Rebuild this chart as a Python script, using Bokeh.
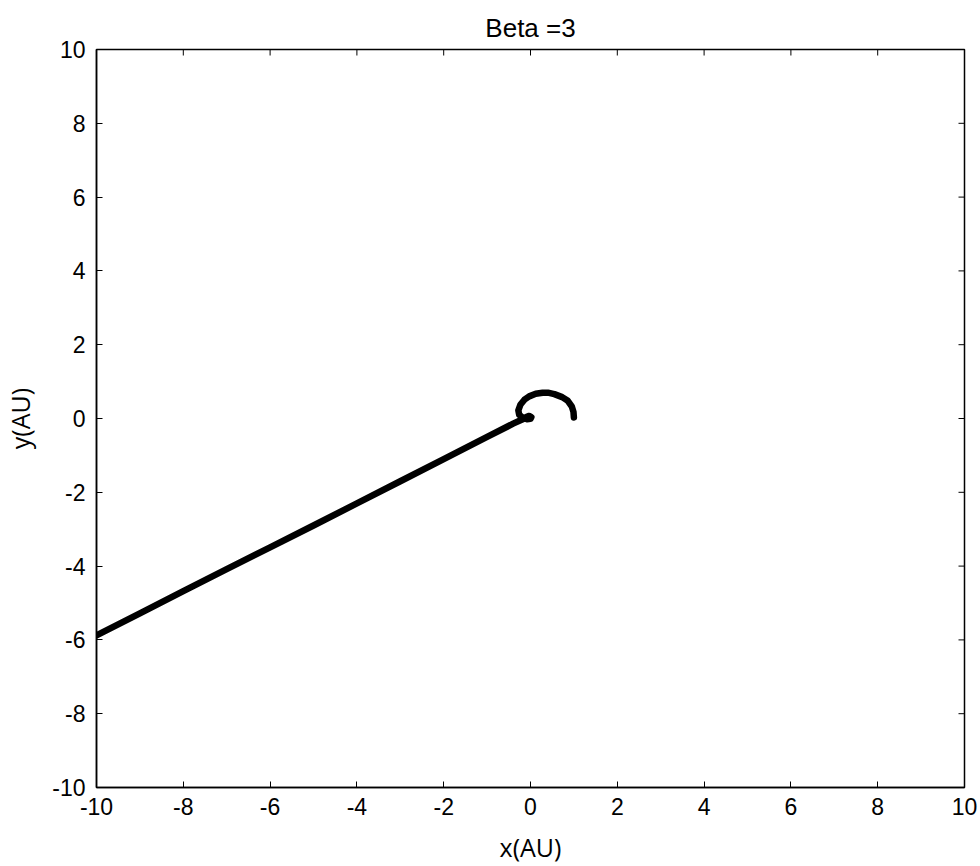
import math
from bokeh.plotting import figure
from bokeh.models import Range1d, FixedTicker
from bokeh.embed import file_html
from bokeh.resources import INLINE

title_text = "Beta =3"
x_label = "x(AU)"
y_label = "y(AU)"
ticks = [-10, -8, -6, -4, -2, 0, 2, 4, 6, 8, 10]
tick_labels = ["-10", "-8", "-6", "-4", "-2", "0", "2", "4", "6", "8", "10"]

# trajectory
traj_x = [1.00, 0.99, 0.95, 0.86, 0.73, 0.55, 0.40, 0.28, 0.12, -0.03, -0.14,
          -0.23, -0.28, -0.26, -0.18, -0.08, 0.00, 0.02, -0.03, -0.10, -0.18,
          -0.40, -1.0, -2.0, -3.0, -4.0, -5.0, -6.0, -7.0, -8.0, -9.0, -10.0]
traj_y = [0.03, 0.18, 0.33, 0.48, 0.58, 0.66, 0.70, 0.70, 0.67, 0.60, 0.51,
          0.38, 0.22, 0.10, 0.02, -0.02, -0.01, 0.04, 0.07, 0.04, -0.02,
          -0.14, -0.50, -1.10, -1.70, -2.30, -2.90, -3.49, -4.08, -4.68, -5.28, -5.88]

FONT = "Liberation Sans"
LFONT = "Open Sans"

p = figure(width=980, height=866, output_backend="svg", toolbar_location=None,
           x_range=Range1d(-10, 10), y_range=Range1d(-10, 10),
           min_border_left=96, min_border_right=16, min_border_top=49,
           min_border_bottom=78, title=title_text)

p.title.align = "center"
p.title.vertical_align = "top"
p.title.text_font = FONT
p.title.text_font_size = "26px"
p.title.text_font_style = "normal"
p.title.text_color = "black"
p.title.standoff = 10

p.grid.visible = False
p.outline_line_color = "black"
p.outline_line_width = 1.5
p.background_fill_color = "white"
p.border_fill_color = "white"

p.line(traj_x, traj_y, line_color="black", line_width=6.5,
       line_join="round", line_cap="round")

overrides = {t: s for t, s in zip(ticks, tick_labels)}
for ax in [p.xaxis[0], p.yaxis[0]]:
    ax.ticker = FixedTicker(ticks=ticks)
    ax.major_label_overrides = overrides
    ax.major_tick_in = 6
    ax.major_tick_out = 0
    ax.minor_tick_line_color = None
    ax.major_tick_line_color = "black"
    ax.axis_line_color = "black"
    ax.axis_line_width = 1.5
    ax.major_label_text_font = FONT
    ax.major_label_text_font_size = "23px"
    ax.major_label_text_color = "black"
    ax.axis_label_text_font = LFONT
    ax.axis_label_text_font_size = "25px"
    ax.axis_label_text_font_style = "normal"
    ax.axis_label_text_color = "black"

p.xaxis[0].axis_label = x_label
p.yaxis[0].axis_label = y_label
p.xaxis[0].major_label_standoff = 10
p.yaxis[0].major_label_standoff = 11
p.xaxis[0].axis_label_standoff = 12
p.yaxis[0].axis_label_standoff = 12

# inward tick marks on the top and right edges of the box
top_y = [10] * len(ticks)
right_x = [10] * len(ticks)
p.ray(x=ticks, y=top_y, length=6, length_units="screen", angle=-math.pi / 2,
      line_color="black", line_width=1)
p.ray(x=right_x, y=ticks, length=6, length_units="screen", angle=math.pi,
      line_color="black", line_width=1)

open("out.html", "w").write(file_html(p, INLINE))
